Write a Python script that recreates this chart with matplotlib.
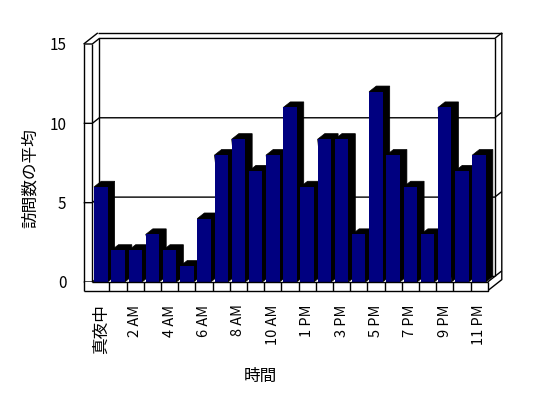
import numpy as np
import matplotlib
matplotlib.use("Agg")
import matplotlib.pyplot as plt
from matplotlib.patches import Polygon

# 時間帯ごとの平均訪問数 (正午の列はなし)
hours = ["真夜中", "1 AM", "2 AM", "3 AM", "4 AM", "5 AM", "6 AM", "7 AM",
         "8 AM", "9 AM", "10 AM", "11 AM", "1 PM", "2 PM", "3 PM", "4 PM",
         "5 PM", "6 PM", "7 PM", "8 PM", "9 PM", "10 PM", "11 PM"]
visits = [6, 2, 2, 3, 2, 1, 4, 8, 9, 7, 8, 11, 6, 9, 9, 3, 12, 8, 6, 3, 11, 7, 8]
y_ticks = [0, 5, 10, 15]

plt.rcParams['font.family'] = ['Noto Sans CJK JP', 'DejaVu Sans']

W, H = 548, 398
fig = plt.figure(figsize=(W / 100, H / 100), dpi=100)
fig.patch.set_facecolor("white")

# 前面の座標: x=-0.5 -> 92px, x=22.5 -> 488px, y=0 -> 282px, y=15 -> 44px
xlim = (-1.2, 23.5)
ylim = (-0.8, 16.0)
ppx = (487.7 - 92.3) / 23
ppy = (282 - 44) / 15
left_px = 92.3 - (-0.5 - xlim[0]) * ppx
right_px = 487.7 + (xlim[1] - 22.5) * ppx
bot_px = 282 + (0 - ylim[0]) * ppy
top_px = 44 - (ylim[1] - 15) * ppy
ax = fig.add_axes([left_px / W, 1 - bot_px / H,
                   (right_px - left_px) / W, (bot_px - top_px) / H])
ax.set_xlim(*xlim)
ax.set_ylim(*ylim)
for s in ax.spines.values():
    s.set_visible(False)

# 奥行きのずらし量
dx, dy = 0.41, 0.35
n = len(hours)
xa, xb = -0.5, n - 0.5
ymax = y_ticks[-1]
floor_b = -0.55
kw = dict(color="black", lw=1, solid_capstyle="butt")

# 背面の壁と目盛線
for v in y_ticks:
    ax.plot([xa - 0.5, xa, xa + dx, xb + dx, xb + 2 * dx],
            [v, v, v + dy, v + dy, v + 2 * dy], zorder=1, **kw)
ax.plot([xa + dx, xa + dx], [dy, ymax + dy], zorder=1, **kw)
ax.plot([xb + dx, xb + dx], [dy, ymax + dy], zorder=1, **kw)
ax.plot([xa - 0.5 + 2 * dx, xb + 2 * dx], [ymax + 2 * dy, ymax + 2 * dy], zorder=1, **kw)
ax.plot([xb + 2 * dx, xb + 2 * dx, xb], [ymax + 2 * dy, floor_b + 2 * dy, floor_b], zorder=1, **kw)
ax.plot([xb, xb + dx], [0, dy], zorder=1, **kw)

# 棒 (前面 + 側面/上面)
x = np.arange(n)
bars = ax.bar(x, visits, width=0.78, color="#000080", linewidth=0)
for i, b in enumerate(bars):
    x0 = b.get_x()
    x1 = x0 + b.get_width()
    h = b.get_height()
    shade = Polygon([(x0, h), (x0 + dx, h + dy), (x1 + dx, h + dy),
                     (x1 + dx, dy), (x1, 0)], closed=True,
                    fc="black", ec="black", lw=0.5, zorder=3 + 2 * i)
    ax.add_patch(shade)
    b.set_zorder(4 + 2 * i)

# 左の壁と床
zf = 100
ax.plot([xa - 0.5, xa - 0.5], [floor_b, ymax], zorder=zf, **kw)
ax.plot([xa, xa], [0, ymax], zorder=zf, **kw)
ax.plot([xa - 0.5, xa - 0.5 + 2 * dx], [ymax, ymax + 2 * dy], zorder=zf, **kw)
ax.plot([xa - 0.5, xb, xb], [floor_b, floor_b, 0], zorder=zf, **kw)
ax.plot([xa, xb], [0, 0], zorder=zf, **kw)
for k in range(1, n):
    ax.plot([xa + k, xa + k], [floor_b, 0], zorder=zf, **kw)
ax.add_patch(plt.Rectangle((xa - 0.5, floor_b), xb - xa + 0.5, -floor_b,
                           fc="white", ec="none", zorder=zf - 1))

# 目盛ラベル
ax.set_yticks(y_ticks)
ax.set_yticklabels([str(v) for v in y_ticks], fontsize=11)
ax.set_xticks(x[::2])
ax.set_xticklabels(hours[::2], rotation=90, fontsize=10.5, va="top", ha="center")
ax.get_xticklabels()[0].set_fontsize(12)
ax.tick_params(axis="both", length=0)
ax.tick_params(axis="y", pad=10)
ax.tick_params(axis="x", pad=7)

ax.set_xlabel("時間", fontsize=12)
ax.xaxis.set_label_coords((260 - left_px) / (right_px - left_px),
                          (bot_px - 376) / (bot_px - top_px))
ax.xaxis.label.set_va("center")
ax.set_ylabel("訪問数の平均", fontsize=12)
ax.yaxis.set_label_coords((30 - left_px) / (right_px - left_px),
                          (bot_px - 178) / (bot_px - top_px))
ax.yaxis.label.set_va("center")

fig.savefig("out.png", dpi=100, facecolor="white")
